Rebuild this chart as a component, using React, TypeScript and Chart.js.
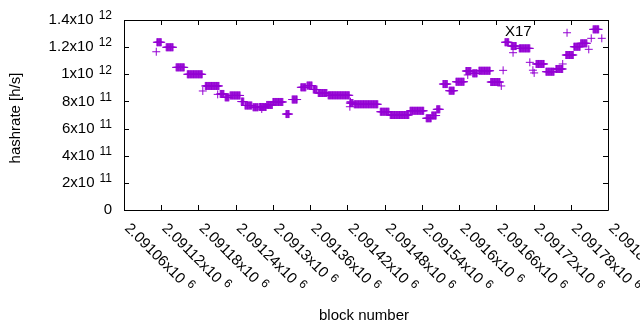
import React, { useEffect, useRef } from "react";
import { Chart, registerables } from "chart.js";

Chart.register(...registerables);

// Plateaus of the hashrate estimate: first block, last block, value [h/s]
const segStart = [2091113, 2091128, 2091144, 2091162, 2091191, 2091215, 2091223, 2091231, 2091249, 2091255, 2091268, 2091278, 2091290, 2091300, 2091321, 2091331, 2091345, 2091355, 2091365, 2091373, 2091389, 2091424, 2091431, 2091473, 2091489, 2091521, 2091547, 2091556, 2091564, 2091574, 2091584, 2091595, 2091611, 2091622, 2091632, 2091651, 2091674, 2091684, 2091697, 2091724, 2091740, 2091756, 2091772, 2091785, 2091796, 2091816];
const segEnd = [2091120, 2091139, 2091157, 2091186, 2091213, 2091221, 2091229, 2091247, 2091253, 2091266, 2091276, 2091289, 2091299, 2091316, 2091326, 2091339, 2091353, 2091363, 2091371, 2091387, 2091423, 2091429, 2091469, 2091487, 2091519, 2091543, 2091555, 2091563, 2091569, 2091581, 2091592, 2091608, 2091619, 2091629, 2091650, 2091666, 2091680, 2091692, 2091714, 2091737, 2091753, 2091767, 2091784, 2091795, 2091806, 2091825];
const segValue = [1.236e12, 1.199e12, 1.051e12, 1.0e12, 9.14e11, 8.55e11, 8.3e11, 8.44e11, 7.99e11, 7.7e11, 7.57e11, 7.59e11, 7.74e11, 7.96e11, 7.07e11, 8.14e11, 9.04e11, 9.17e11, 8.88e11, 8.62e11, 8.45e11, 7.88e11, 7.79e11, 7.24e11, 7.0e11, 7.31e11, 6.76e11, 6.96e11, 7.42e11, 9.28e11, 8.79e11, 9.45e11, 1.024e12, 1.007e12, 1.026e12, 9.43e11, 1.236e12, 1.208e12, 1.191e12, 1.076e12, 1.019e12, 1.039e12, 1.142e12, 1.203e12, 1.228e12, 1.331e12];

// Isolated points
const outBlock = [2091112, 2091187, 2091211, 2091282, 2091424, 2091425, 2091614, 2091668, 2091671, 2091687, 2091714, 2091719, 2091721, 2091767, 2091774, 2091809, 2091813, 2091830];
const outValue = [1.166e12, 8.77e11, 8.52e11, 7.44e11, 7.61e11, 7.98e11, 9.95e11, 9.14e11, 1.029e12, 1.159e12, 1.088e12, 1.03e12, 1.01e12, 1.076e12, 1.306e12, 1.184e12, 1.265e12, 1.265e12];

const xTickValues = [2091060, 2091120, 2091180, 2091240, 2091300, 2091360, 2091420, 2091480, 2091540, 2091600, 2091660, 2091720, 2091780, 2091840];
const yTickValues = [0, 2e11, 4e11, 6e11, 8e11, 1e12, 1.2e12, 1.4e12];

const xTitle = "block number";
const yTitle = "hashrate [h/s]";
const noteText = "X17";
const noteBlock = 2091674;
const noteValue = 1.315e12;

const COLOR = "#9400d3";
const FONT = "'Liberation Sans', Arial, sans-serif";

function splitSci(v: number): [string, string] {
  if (v === 0) return ["0", ""];
  const e = Math.floor(Math.log10(Math.abs(v)) + 1e-9);
  const m = parseFloat((v / Math.pow(10, e)).toPrecision(8));
  return [m + "x10", String(e)];
}

export default function App() {
  const ref = useRef<HTMLCanvasElement | null>(null);
  useEffect(() => {
    if (!ref.current) return;
    const pts: { x: number; y: number }[] = [];
    for (let i = 0; i < segStart.length; i++) {
      for (let b = segStart[i]; b <= segEnd[i]; b++) pts.push({ x: b, y: segValue[i] });
    }
    for (let i = 0; i < outBlock.length; i++) pts.push({ x: outBlock[i], y: outValue[i] });

    const deco = {
      id: "deco",
      afterDraw(chart: any) {
        const ctx = chart.ctx as CanvasRenderingContext2D;
        const a = chart.chartArea;
        const xs = chart.scales.x;
        const ys = chart.scales.y;
        ctx.save();
        ctx.strokeStyle = "#000";
        ctx.lineWidth = 1;
        ctx.beginPath();
        ctx.rect(Math.round(a.left) + 0.5, Math.round(a.top) + 0.5, Math.round(a.right - a.left), Math.round(a.bottom - a.top));
        const tl = 5;
        for (const v of yTickValues) {
          const py = Math.round(ys.getPixelForValue(v)) + 0.5;
          ctx.moveTo(a.left, py); ctx.lineTo(a.left + tl, py);
          ctx.moveTo(a.right, py); ctx.lineTo(a.right - tl, py);
        }
        for (const v of xTickValues) {
          const px = Math.round(xs.getPixelForValue(v)) + 0.5;
          ctx.moveTo(px, a.bottom); ctx.lineTo(px, a.bottom - tl);
          ctx.moveTo(px, a.top); ctx.lineTo(px, a.top + tl);
        }
        ctx.stroke();

        ctx.fillStyle = "#000";
        // y tick labels
        ctx.textBaseline = "middle";
        ctx.textAlign = "left";
        const rightEdge = a.left - 12;
        for (const v of yTickValues) {
          const py = ys.getPixelForValue(v);
          const [base, ex] = splitSci(v);
          ctx.font = "15px " + FONT;
          const wb = ctx.measureText(base).width;
          ctx.font = "12px " + FONT;
          const we = ex ? ctx.measureText(ex).width : 0;
          const gap = ex ? 5 : 0;
          const x0 = rightEdge - we - gap - wb;
          ctx.font = "15px " + FONT;
          ctx.fillText(base, x0, py);
          if (ex) {
            ctx.font = "12px " + FONT;
            ctx.fillText(ex, x0 + wb + gap, py - 4);
          }
        }
        // x tick labels rotated
        for (const v of xTickValues) {
          const px = xs.getPixelForValue(v);
          const [base, ex] = splitSci(v);
          ctx.save();
          ctx.translate(px + 3, a.bottom + 16);
          ctx.rotate(Math.PI / 4);
          ctx.font = "15px " + FONT;
          ctx.fillText(base, 0, 0);
          const wb = ctx.measureText(base).width;
          ctx.font = "12px " + FONT;
          ctx.fillText(ex, wb + 5, -4);
          ctx.restore();
        }
        // titles
        ctx.font = "15px " + FONT;
        ctx.textAlign = "center";
        ctx.fillText(xTitle, (a.left + a.right) / 2 - 2, 316);
        ctx.save();
        ctx.translate(16, (a.top + a.bottom) / 2 + 3);
        ctx.rotate(-Math.PI / 2);
        ctx.fillText(yTitle, 0, 0);
        ctx.restore();
        // note
        ctx.textAlign = "left";
        ctx.fillText(noteText, xs.getPixelForValue(noteBlock), ys.getPixelForValue(noteValue));
        ctx.restore();
      },
    };

    const chart = new Chart(ref.current, {
      type: "scatter",
      data: {
        datasets: [
          {
            data: pts,
            pointStyle: "cross",
            pointRadius: 4,
            pointBorderWidth: 1,
            borderColor: COLOR,
            backgroundColor: COLOR,
          } as any,
        ],
      },
      options: {
        animation: false,
        responsive: false,
        events: [],
        layout: { padding: { top: 20, right: 32, left: 0, bottom: 0 } },
        plugins: { legend: { display: false }, tooltip: { enabled: false } },
        scales: {
          x: {
            type: "linear",
            min: xTickValues[0],
            max: xTickValues[xTickValues.length - 1],
            grid: { display: false },
            border: { display: false },
            ticks: { display: false },
            afterFit: (s: any) => { s.height = 120; },
            afterBuildTicks: (s: any) => { s.ticks = xTickValues.map((v) => ({ value: v })); },
          },
          y: {
            type: "linear",
            min: yTickValues[0],
            max: yTickValues[yTickValues.length - 1],
            grid: { display: false },
            border: { display: false },
            ticks: { display: false },
            afterFit: (s: any) => { s.width = 124; },
            afterBuildTicks: (s: any) => { s.ticks = yTickValues.map((v) => ({ value: v })); },
          },
        },
      },
      plugins: [deco],
    } as any);
    return () => chart.destroy();
  }, []);
  return (
    <div style={{ position: "absolute", left: 0, top: 0, width: 640, height: 330, background: "#fff" }}>
      <canvas ref={ref} width={640} height={330} />
    </div>
  );
}
